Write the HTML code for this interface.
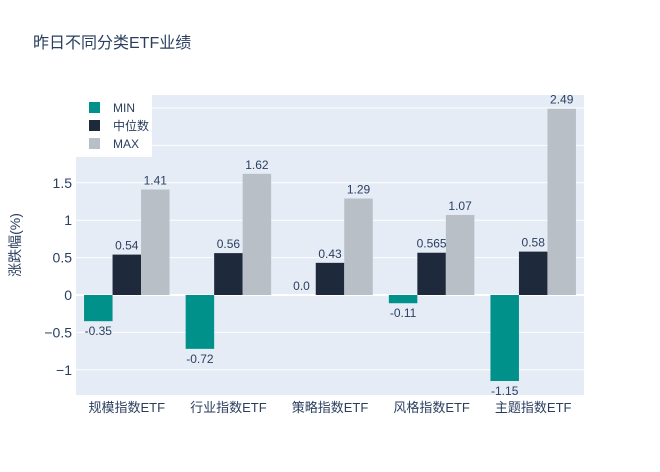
<!DOCTYPE html>
<html><head><meta charset="utf-8">
<style>
body{margin:0;background:#fff;}
svg{display:block;font-family:"Liberation Sans","Noto Sans CJK SC",sans-serif;}
</style></head>
<body>
<svg id="chart" width="660" height="472">
<text x="33" y="48" font-size="16" fill="#2a3f5f">昨日不同分类ETF业绩</text>
<rect x="76" y="95" width="508" height="300" fill="#e5ecf6"/>
<g id="grid"></g>
<g id="bars"></g>
<g id="labels"></g>
<text transform="translate(20,245) rotate(-90)" text-anchor="middle" font-size="14" fill="#2a3f5f">涨跌幅(%)</text>
<g>
<rect x="48" y="94" width="104" height="63" fill="#fff"/>
<rect x="89" y="102" width="11" height="11" fill="#00918a"/>
<text x="113" y="112" font-size="12" fill="#2a3f5f">MIN</text>
<rect x="89" y="120" width="11" height="11" fill="#1e293b"/>
<text x="113" y="130" font-size="12" fill="#2a3f5f">中位数</text>
<rect x="89" y="138" width="11" height="11" fill="#b8bfc6"/>
<text x="113" y="148" font-size="12" fill="#2a3f5f">MAX</text>
</g>
</svg>
<script>
const categories=["规模指数ETF","行业指数ETF","策略指数ETF","风格指数ETF","主题指数ETF"];
const minVals=[-0.35,-0.72,0.0,-0.11,-1.15];
const medVals=[0.54,0.56,0.43,0.565,0.58];
const maxVals=[1.41,1.62,1.29,1.07,2.49];
const minText=["-0.35","-0.72","0.0","-0.11","-1.15"];
const medText=["0.54","0.56","0.43","0.565","0.58"];
const maxText=["1.41","1.62","1.29","1.07","2.49"];
const yTicks=[-1,-0.5,0,0.5,1,1.5,2,2.5];
const yTickText=["−1","−0.5","0","0.5","1","1.5","2","2.5"];
const NS="http://www.w3.org/2000/svg";
const L=76,R=584,ZERO=295,PPU=74.8;
const y=v=>ZERO-v*PPU;
const band=(R-L)/categories.length;
const xc=i=>L+band*(i+0.5);
const bw=28.5;
function mk(tag,attrs,parent){const e=document.createElementNS(NS,tag);for(const k in attrs)e.setAttribute(k,attrs[k]);document.getElementById(parent).appendChild(e);return e;}
yTicks.forEach((t,i)=>{
  const g=mk('line',{x1:L,x2:R,y1:y(t),y2:y(t),stroke:t===0?'#fff':'#fff','stroke-width':t===0?2:1},'grid');
  
  
  const tx=mk('text',{x:L-4,y:y(t)+5,'text-anchor':'end','font-size':14,fill:'#2a3f5f'},'grid');
  tx.textContent=yTickText[i];
  
  
});
const series=[[minVals,minText,'#00918a','min'],[medVals,medText,'#1e293b','median'],[maxVals,maxText,'#b8bfc6','max']];
categories.forEach((c,i)=>{
  series.forEach((s,j)=>{
    const v=s[0][i];
    const x0=xc(i)+(j-1.5)*bw;
    const top=Math.min(y(v),ZERO),h=Math.abs(y(v)-ZERO);
    const r=mk('rect',{x:x0,y:top,width:bw,height:h,fill:s[2]},'bars');
    
    
    const ly=v>=0?y(v)-5:y(v)+14;
    const t=mk('text',{x:x0+bw/2,y:ly,'text-anchor':'middle','font-size':12,fill:'#2a3f5f'},'labels');
    t.textContent=s[1][i];
    
    
  });
  const ct=mk('text',{x:xc(i),y:412,'text-anchor':'middle','font-size':13,fill:'#2a3f5f'},'labels');
  ct.textContent=c;
  
  
});
</script>
</body></html>
